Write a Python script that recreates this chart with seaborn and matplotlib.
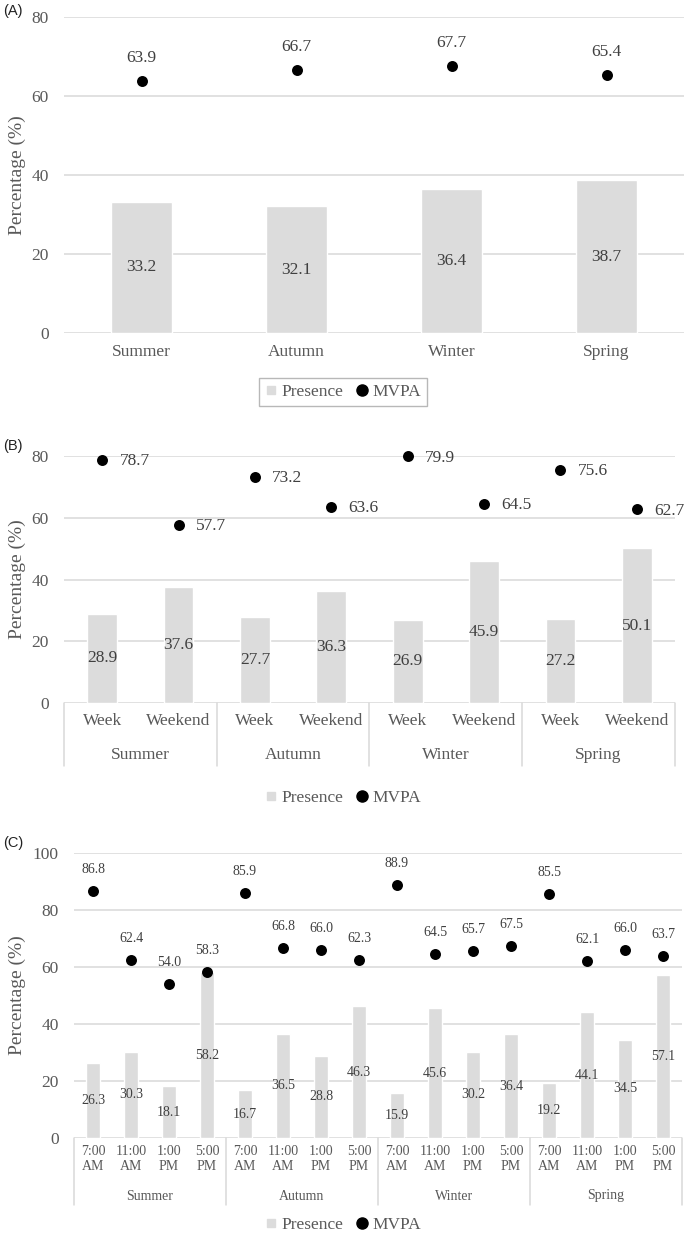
import numpy as np
import pandas as pd
import matplotlib
matplotlib.use("Agg")
import matplotlib.pyplot as plt
import matplotlib.transforms as mtransforms
from matplotlib.lines import Line2D
import seaborn as sns

# --- data ---
seasons = ["Summer", "Autumn", "Winter", "Spring"]

a_presence = [33.2, 32.1, 36.4, 38.7]
a_mvpa = [63.9, 66.7, 67.7, 65.4]

b_days = ["Week", "Weekend"]
b_presence = [28.9, 37.6, 27.7, 36.3, 26.9, 45.9, 27.2, 50.1]
b_mvpa = [78.7, 57.7, 73.2, 63.6, 79.9, 64.5, 75.6, 62.7]

c_times = ["7:00\nAM", "11:00\nAM", "1:00\nPM", "5:00\nPM"]
c_presence = [26.3, 30.3, 18.1, 58.2, 16.7, 36.5, 28.8, 46.3,
              15.9, 45.6, 30.2, 36.4, 19.2, 44.1, 34.5, 57.1]
c_mvpa = [86.8, 62.4, 54.0, 58.3, 85.9, 66.8, 66.0, 62.3,
          88.9, 64.5, 65.7, 67.5, 85.5, 62.1, 66.0, 63.7]

# --- style ---
sns.set_theme(style="white")
plt.rcParams["font.family"] = ["Liberation Serif", "DejaVu Serif"]

BAR = "#dcdcdc"
GRID = "#d9d9d9"
TICK = "#595959"
LABEL = "#404040"

W, H = 685, 1244
fig = plt.figure(figsize=(W / 100, H / 100), dpi=100)


def ax_at(left, top, right, bottom):
    return fig.add_axes([left / W, 1 - bottom / H, (right - left) / W, (bottom - top) / H])


def draw_panel(ax, presence, mvpa, ticklabels, ymax, fs_data, fs_tick, lab_mode):
    n = len(presence)
    keys = [f"k{i}" for i in range(n)]
    df = pd.DataFrame({"key": keys, "presence": presence, "mvpa": mvpa})
    sns.barplot(data=df, x="key", y="presence", order=keys, color=BAR,
                saturation=1, width=0.39, errorbar=None, ax=ax)
    sns.stripplot(data=df, x="key", y="mvpa", order=keys, jitter=False,
                  color="black", size=7.9, linewidth=0, ax=ax)
    for c in ax.collections:
        c.set_clip_on(False)
        c.set_zorder(5)

    ax.bar_label(ax.containers[0], labels=[f"{v:.1f}" for v in presence],
                 label_type="center", fontsize=fs_data, color=LABEL)
    for i, v in enumerate(mvpa):
        if lab_mode == "right":
            ax.annotate(f"{v:.1f}", (i, v), xytext=(12.5, -1), textcoords="offset points",
                        ha="left", va="center", fontsize=fs_data, color=LABEL)
        else:
            off = 16.5 if fs_data > 11 else 15.5
            ax.annotate(f"{v:.1f}", (i, v), xytext=(0, off), textcoords="offset points",
                        ha="center", va="center", fontsize=fs_data, color=LABEL)

    ax.set_xlim(-0.5, n - 0.5)
    ax.set_ylim(0, ymax)
    ax.set_yticks(np.arange(0, ymax + 1, 20))
    ax.set_xticks(range(n))
    ax.set_xticklabels(ticklabels)
    ax.set_xlabel("")
    ax.set_ylabel("Percentage (%)", fontsize=14, color=TICK)
    ax.yaxis.grid(True, color=GRID, lw=1.1)
    ax.xaxis.grid(False)
    ax.set_axisbelow(True)
    for s in ax.spines.values():
        s.set_visible(False)
    ax.tick_params(axis="y", length=0, pad=11, labelsize=12.5, labelcolor=TICK)
    ax.tick_params(axis="x", length=0, labelsize=fs_tick, labelcolor=TICK)


def group_axis(ax, groups, per, label_y, sep_len, fs):
    trans = mtransforms.blended_transform_factory(ax.transData, ax.transAxes)
    for g in range(len(groups) + 1):
        ax.axvline(g * per - 0.5, ymin=-sep_len, ymax=0, color=GRID, lw=1.1, clip_on=False)
    for g, name in enumerate(groups):
        ax.text(g * per + (per - 1) / 2, label_y, name, transform=trans,
                ha="center", va="center", fontsize=fs, color=TICK)


def add_legend(y, frame):
    handles = [Line2D([], [], marker="s", ls="", color=BAR, markersize=6),
               Line2D([], [], marker="o", ls="", color="black", markersize=8)]
    leg = fig.legend(handles, ["Presence", "MVPA"], loc="center",
                     bbox_to_anchor=(343 / W, 1 - y / H), ncol=2, fontsize=12.5,
                     frameon=frame, fancybox=False, handlelength=0.7,
                     handletextpad=0.25, columnspacing=0.7, borderpad=0.35)
    for t in leg.get_texts():
        t.set_color(TICK)
    if frame:
        leg.get_frame().set_edgecolor("#a6a6a6")
        leg.get_frame().set_linewidth(1.0)


# --- Panel A ---
ax_a = ax_at(64, 17, 684, 333)
draw_panel(ax_a, a_presence, a_mvpa, seasons, 80, 12.5, 12.5, "above")
ax_a.tick_params(axis="x", pad=8)
ax_a.yaxis.set_label_coords(-(64 - 26) / 620, 0.5)
add_legend(392, True)
fig.text(3 / W, 1 - 11 / H, "(A)", family="Liberation Sans", fontsize=10.5, va="center", color="#222222")

# --- Panel B ---
ax_b = ax_at(64, 456, 675, 703)
draw_panel(ax_b, b_presence, b_mvpa, b_days * 4, 80, 12.5, 12.5, "right")
ax_b.tick_params(axis="x", pad=7)
ax_b.yaxis.set_label_coords(-(64 - 26) / 611, 0.5)
group_axis(ax_b, seasons, 2, -(755 - 703) / 247, 63 / 247, 12.5)
add_legend(798, False)
fig.text(3 / W, 1 - 446 / H, "(B)", family="Liberation Sans", fontsize=10.5, va="center", color="#222222")

# --- Panel C ---
ax_c = ax_at(74, 853, 682, 1138)
draw_panel(ax_c, c_presence, c_mvpa, c_times * 4, 100, 10, 10, "above")
ax_c.tick_params(axis="x", pad=5)
for t in ax_c.get_xticklabels():
    t.set_linespacing(1.25)
ax_c.yaxis.set_label_coords(-(74 - 26) / 608, 0.5)
group_axis(ax_c, seasons, 4, -(1196 - 1138) / 285, 67 / 285, 10)
add_legend(1225, False)
fig.text(3 / W, 1 - 843 / H, "(C)", family="Liberation Sans", fontsize=10.5, va="center", color="#222222")

fig.savefig("out.png", dpi=100)
